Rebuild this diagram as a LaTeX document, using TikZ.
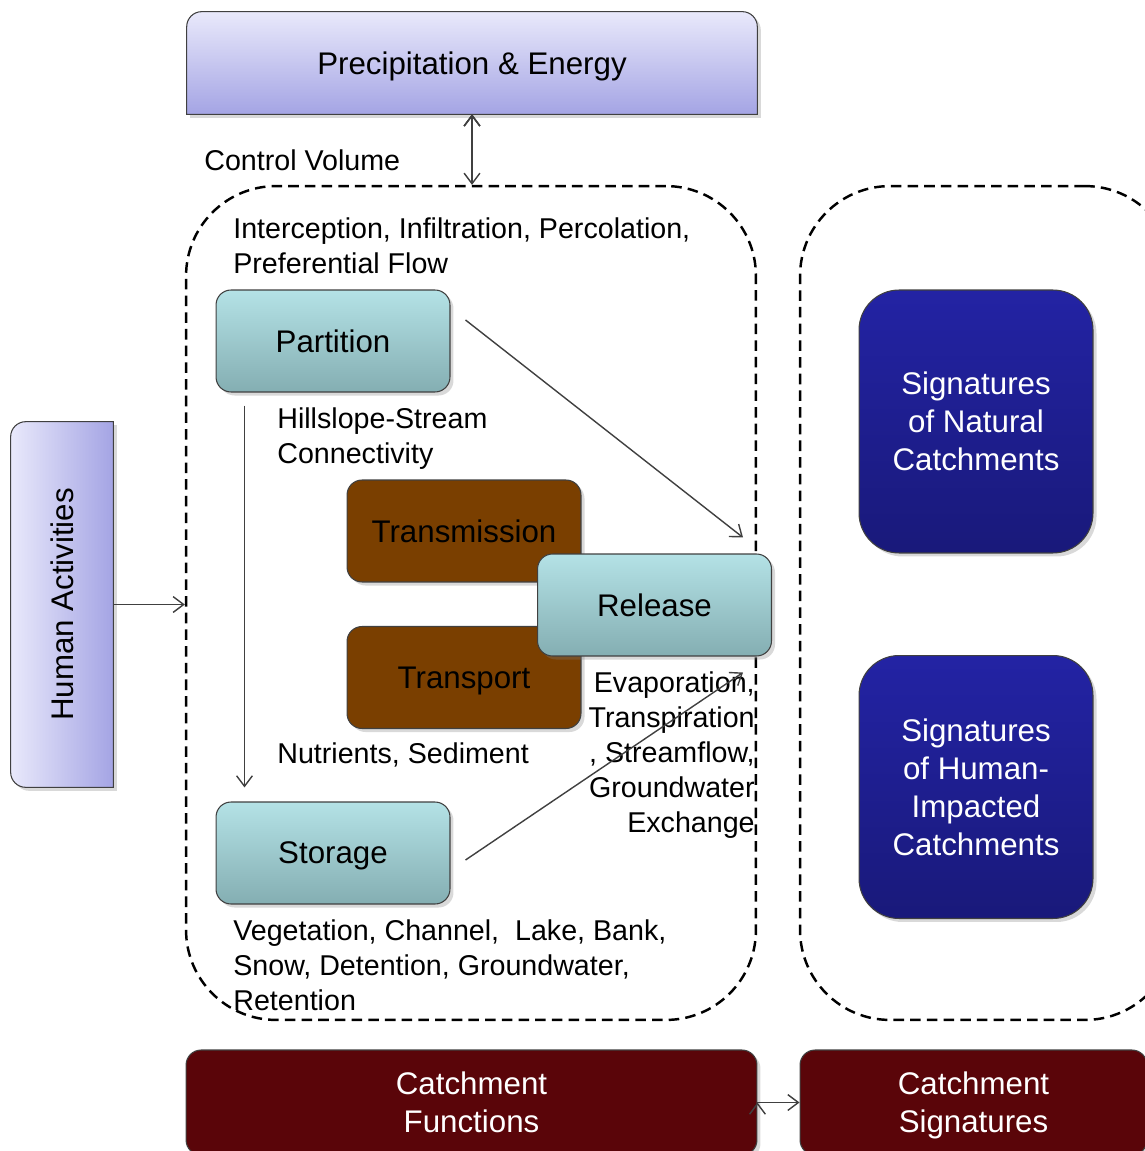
\documentclass[tikz,border=0pt]{standalone}
\usepackage{fontspec}
\setmainfont{Liberation Sans}
\usetikzlibrary{arrows.meta,shadows,backgrounds}
\definecolor{lavtop}{HTML}{E9E9FB}
\definecolor{lavbot}{HTML}{A4A4E4}
\definecolor{tealtop}{HTML}{B4E2E6}
\definecolor{tealbot}{HTML}{84AEB2}
\definecolor{brownbox}{HTML}{7A3F00}
\definecolor{bluetop}{HTML}{2323A4}
\definecolor{bluebot}{HTML}{19197A}
\definecolor{redbox}{HTML}{5A0509}
\begin{document}
\begin{tikzpicture}
			[x=0.02cm,y=-0.02cm,
			box/.style={draw=black!75,line width=0.6pt,rounded corners=0.3cm,minimum width=4.68cm,minimum height=2.04cm,align=center,font=\fontsize{17.8}{21.6}\selectfont,drop shadow={shadow xshift=2pt,shadow yshift=-2pt,opacity=0.3}},
			teal box/.style={box,text depth=0pt,top color=tealtop,bottom color=tealbot},
			brown box/.style={box,text depth=0pt,fill=brownbox},
			blue box/.style={box,rounded corners=0.8cm,minimum height=5.26cm,text=white,top color=bluetop,bottom color=bluebot},
			red box/.style={box,text depth=0pt,fill=redbox,text=white,minimum height=2.1cm},
			volume/.style={draw,line width=1.4pt,dash pattern=on 6pt off 3.5pt,rounded corners=1.8cm,minimum height=16.68cm},
			txt/.style={inner sep=0pt,align=left,font=\fontsize{16.3}{19.9}\selectfont},
			flow/.style={draw=black!75,line width=0.8pt,-{Straight Barb[length=6pt,width=9pt]}}]
			\useasboundingbox (0,0) rectangle (1144,1151);
			% dashed volumes
			\node[volume,minimum width=11.4cm] (CV) at (471,603) {};
			\node[volume,minimum width=7.5cm] (SV) at (987.5,603) {};
			% outer boxes
			\node[align=center,text depth=0pt,font=\fontsize{17.8}{21.6}\selectfont,minimum width=11.4cm,minimum height=2.04cm] (PE) at (472,63) {Precipitation \& Energy};
			\node[minimum width=2.04cm,minimum height=7.3cm,font=\fontsize{17.8}{21.6}\selectfont] (HA) at (62,604.5) {\rotatebox{90}{\raisebox{-2pt}{Human Activities}}};
			\begin{scope}[on background layer]
				\draw[draw=black!75,line width=0.6pt,top color=lavtop,bottom color=lavbot,drop shadow={shadow xshift=2pt,shadow yshift=-2pt,opacity=0.3}]
				(PE.south west) [rounded corners=0.3cm] -- (PE.north west) -- (PE.north east) [sharp corners] -- (PE.south east) -- cycle;
				\draw[draw=black!75,line width=0.6pt,left color=lavtop,right color=lavbot,drop shadow={shadow xshift=2pt,shadow yshift=-2pt,opacity=0.3}]
				(HA.north east) [rounded corners=0.3cm] -- (HA.north west) -- (HA.south west) [sharp corners] -- (HA.south east) -- cycle;
			\end{scope}
			% functions
			\node[teal box] (PA) at (333,341) {Partition};
			\node[brown box] (TM) at (464,531) {Transmission};
			\node[brown box] (TP) at (464,677.5) {Transport};
			\node[teal box] (RE) at (654.5,605) {Release};
			\node[teal box] (ST) at (333,853) {Storage};
			% signatures
			\node[blue box] (SN) at (976,421.5) {Signatures\\of Natural\\Catchments};
			\node[blue box] (SH) at (976,787) {Signatures\\of Human-\\Impacted\\Catchments};
			\node[red box,minimum width=11.42cm] (CF) at (471.5,1102.5) {Catchment\\Functions};
			\node[red box,minimum width=6.94cm] (CS) at (973.5,1102.5) {Catchment\\Signatures};
			% labels
			\node[txt,anchor=west] (cvlabel) at (204,160) {Control Volume};
			\node[txt,anchor=west] (palabel) at (233,245.5) {Interception, Infiltration, Percolation,\\Preferential Flow};
			\node[txt,anchor=west] (hslabel) at (277,438.5) {Hillslope-Stream\\Connectivity};
			\node[txt,anchor=west] (nslabel) at (277,755) {Nutrients, Sediment};
			\node[txt,anchor=east,align=right] (relabel) at (755,755) {Evaporation,\\Transpiration\\, Streamflow,\\Groundwater\\Exchange};
			\node[txt,anchor=west] (stlabel) at (233,965) {Vegetation, Channel,\ \ Lake, Bank,\\Snow, Detention, Groundwater,\\Retention};
			% connectors
			\path[flow]
			([shift={(15,-21)}]PA.east) edge ([shift={(-29,-16)}]RE.north east)
			([shift={(15,7)}]ST.east) edge ([shift={(-29,16)}]RE.south east)
			([shift={(29,13)}]PA.south west) edge ([shift={(29,-14)}]ST.north west)
			(HA.east) edge (HA.east -| CV.west)
			(CF.east) edge (CS.west);
			\path[flow,{Straight Barb[length=6pt,width=9pt]}-{Straight Barb[length=6pt,width=9pt]}]
			(PE.south) edge (PE.south |- CV.north);
		\end{tikzpicture}
\end{document}
